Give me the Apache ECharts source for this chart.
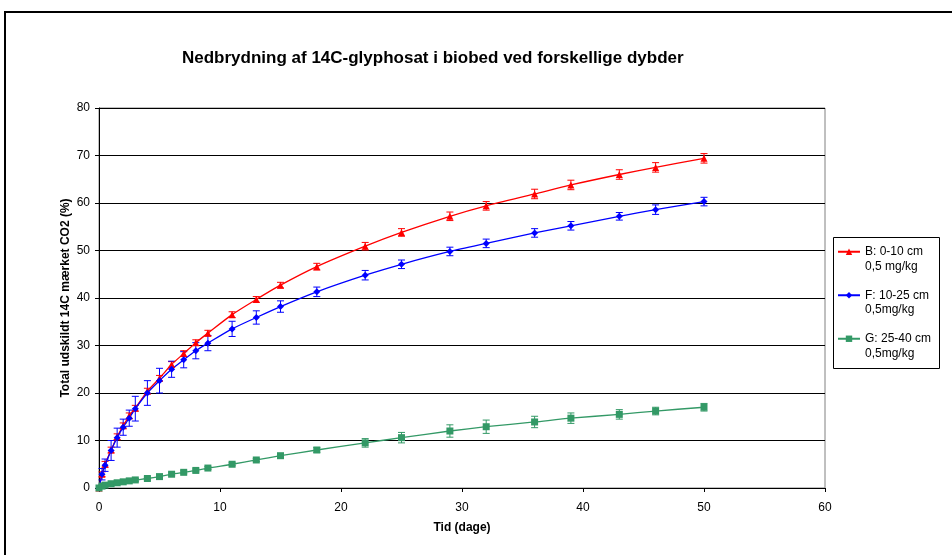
<!DOCTYPE html>
<html>
<head>
<meta charset="utf-8">
<script src="https://cdn.jsdelivr.net/npm/echarts@6/dist/echarts.min.js"></script>
<style>
  html, body { margin: 0; padding: 0; background: #fff; }
  #chart { width: 952px; height: 555px; }
</style>
</head>
<body>
<div id="chart"></div>
<script>
// 时间点（天）
const times = [0, 0.25, 0.5, 1, 1.5, 2, 2.5, 3, 4, 5, 6, 7, 8, 9, 11, 13, 15, 18, 22, 25, 29, 32, 36, 39, 43, 46, 50];

// B: 0-10 cm
const valuesB = [0, 2.9, 5.0, 8.0, 10.8, 13.1, 15.2, 16.8, 20.4, 23.1, 26.0, 28.3, 30.6, 32.6, 36.5, 39.7, 42.7, 46.6, 50.9, 53.8, 57.2, 59.4, 61.9, 63.8, 66.0, 67.5, 69.4];
const errorsB = [0, 0.5, 0.6, 0.6, 0.6, 0.6, 0.6, 0.6, 0.6, 0.6, 0.6, 0.6, 0.6, 0.6, 0.6, 0.6, 0.6, 0.7, 0.8, 0.8, 0.9, 0.9, 1.0, 1.0, 1.0, 1.0, 1.0];

// F: 10-25 cm
const valuesF = [0, 2.9, 4.8, 7.9, 10.6, 12.8, 14.7, 16.7, 20.0, 22.6, 25.0, 27.0, 28.9, 30.5, 33.5, 35.9, 38.2, 41.3, 44.8, 47.1, 49.8, 51.5, 53.7, 55.2, 57.2, 58.6, 60.3];
const errorsF = [0, 1.2, 1.3, 2.1, 2.0, 1.7, 1.7, 2.6, 2.6, 2.6, 1.7, 1.7, 1.7, 1.6, 1.6, 1.4, 1.2, 1.0, 1.0, 0.9, 0.9, 0.9, 0.9, 0.9, 0.8, 1.0, 0.9];

// G: 25-40 cm
const valuesG = [0, 0.4, 0.6, 0.9, 1.1, 1.3, 1.5, 1.7, 2.0, 2.4, 2.9, 3.3, 3.7, 4.2, 5.0, 5.9, 6.8, 8.0, 9.5, 10.6, 12.0, 12.9, 13.9, 14.7, 15.5, 16.2, 17.0];
const errorsG = [0, 0.2, 0.2, 0.2, 0.2, 0.2, 0.2, 0.3, 0.3, 0.3, 0.3, 0.3, 0.3, 0.3, 0.3, 0.3, 0.4, 0.5, 0.9, 1.1, 1.3, 1.4, 1.2, 1.1, 1.0, 0.8, 0.8];

const seriesNames = ["B: 0-10 cm\n0,5 mg/kg", "F: 10-25 cm\n0,5mg/kg", "G: 25-40 cm\n0,5mg/kg"];
const xTicks = { min: 0, max: 60, interval: 10 };
const yTicks = { min: 0, max: 80, interval: 10 };

const COLOR_B = "#ff0000";
const COLOR_F = "#0000ff";
const COLOR_G = "#339966";
const FONT = "Liberation Sans, Arial, sans-serif";

const toPairs = (vals) => times.map((t, i) => [t, vals[i]]);

/**
 * 误差棒（custom series）
 */
const makeErrorSeries = (name, vals, errs, color) => ({
  type: "custom",
  name,
  silent: true,
  z: 3,
  data: times.map((t, i) => [t, vals[i] - errs[i], vals[i] + errs[i]]).filter((d, i) => errs[i] > 0),
  renderItem: (params, api) => {
    const lo = api.coord([api.value(0), api.value(1)]);
    const hi = api.coord([api.value(0), api.value(2)]);
    const w = 3.5;
    const style = { stroke: color, lineWidth: 1 };
    return {
      type: "group",
      children: [
        { type: "line", shape: { x1: lo[0], y1: lo[1], x2: hi[0], y2: hi[1] }, style },
        { type: "line", shape: { x1: lo[0] - w, y1: lo[1], x2: lo[0] + w, y2: lo[1] }, style },
        { type: "line", shape: { x1: hi[0] - w, y1: hi[1], x2: hi[0] + w, y2: hi[1] }, style },
      ],
    };
  },
});

const makeLineSeries = (name, vals, color, symbol, size) => ({
  type: "line",
  name,
  data: toPairs(vals),
  smooth: 0.25,
  symbol,
  symbolSize: size,
  showAllSymbol: true,
  z: 4,
  itemStyle: { color },
  lineStyle: { color, width: 1.3 },
});

const chart = echarts.init(document.getElementById("chart"), null, { renderer: "canvas" });

const option = {
  animation: false,
  backgroundColor: "#fff",
  textStyle: { fontFamily: FONT },
  title: {
    text: "Nedbrydning af 14C-glyphosat i biobed ved forskellige dybder",
    left: 182,
    top: 50,
    padding: 0,
    textStyle: { fontFamily: FONT, fontSize: 17, fontWeight: "bold", color: "#000" },
  },
  graphic: [
    // 外框
    { type: "rect", shape: { x: 5, y: 12, width: 970, height: 570 }, style: { fill: null, stroke: "#000", lineWidth: 2 }, silent: true },
    // 图例框
    { type: "rect", shape: { x: 833.5, y: 237.5, width: 106, height: 131 }, style: { fill: "#fff", stroke: "#000", lineWidth: 1 }, silent: true, z: -1 },
  ],
  legend: {
    data: seriesNames,
    orient: "vertical",
    left: 837,
    top: 230,
    padding: 0,
    itemGap: 0,
    itemWidth: 22,
    itemHeight: 8,
    selectedMode: false,
    // 前置空行，让图标对齐第一行文字
    formatter: (name) => "\n" + name,
    textStyle: { fontFamily: FONT, fontSize: 12, color: "#000", lineHeight: 14.5 },
  },
  grid: {
    left: 99,
    right: 127,
    top: 108,
    bottom: 67,
    show: true,
    borderColor: "#808080",
    borderWidth: 1,
    containLabel: false,
  },
  xAxis: {
    type: "value",
    min: xTicks.min,
    max: xTicks.max,
    interval: xTicks.interval,
    name: "Tid (dage)",
    nameLocation: "middle",
    nameGap: 34,
    nameMoveOverlap: false,
    nameTextStyle: { fontFamily: FONT, fontSize: 12, fontWeight: "bold", color: "#000" },
    axisLine: { lineStyle: { color: "#000", width: 1 } },
    axisTick: { show: true, inside: false, length: 4, lineStyle: { color: "#000" } },
    axisLabel: { fontFamily: FONT, fontSize: 12, color: "#000", margin: 14 },
    splitLine: { show: false },
  },
  yAxis: {
    type: "value",
    min: yTicks.min,
    max: yTicks.max,
    interval: yTicks.interval,
    name: "Total udskildt 14C mærket CO2 (%)",
    nameLocation: "middle",
    nameGap: 27,
    nameMoveOverlap: false,
    nameTextStyle: { fontFamily: FONT, fontSize: 12, fontWeight: "bold", color: "#000" },
    axisLine: { show: true, lineStyle: { color: "#000", width: 1 } },
    axisTick: { show: true, inside: false, length: 4, lineStyle: { color: "#000" } },
    axisLabel: { fontFamily: FONT, fontSize: 12, color: "#000", margin: 9 },
    splitLine: { show: true, lineStyle: { color: "#000", width: 1 } },
  },
  series: [
    makeLineSeries(seriesNames[0], valuesB, COLOR_B, "triangle", 7),
    makeLineSeries(seriesNames[1], valuesF, COLOR_F, "diamond", 7),
    makeLineSeries(seriesNames[2], valuesG, COLOR_G, "rect", 7),
    makeErrorSeries("errB", valuesB, errorsB, COLOR_B),
    makeErrorSeries("errF", valuesF, errorsF, COLOR_F),
    makeErrorSeries("errG", valuesG, errorsG, COLOR_G),
  ],
};

chart.setOption(option);
</script>
</body>
</html>
